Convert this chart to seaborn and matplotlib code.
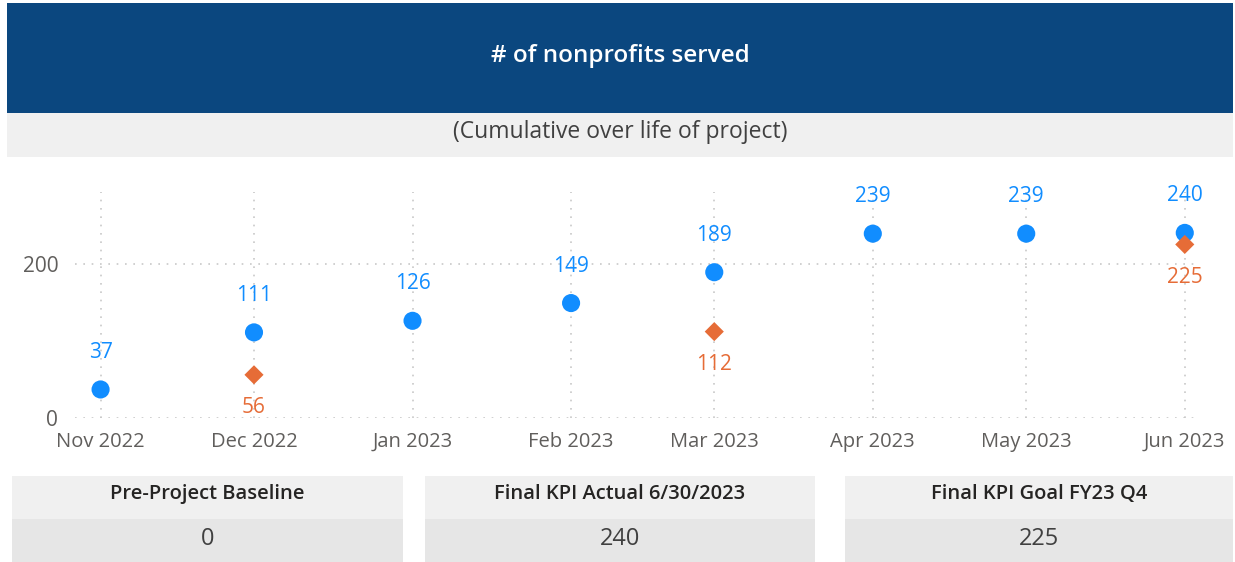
import matplotlib
matplotlib.use("Agg")
import matplotlib.pyplot as plt
import matplotlib.dates as mdates
from matplotlib.patches import Rectangle
import pandas as pd
import seaborn as sns

# -------------------------
# DATA
# -------------------------
months = ["2022-11-01", "2022-12-01", "2023-01-01", "2023-02-01",
          "2023-03-01", "2023-04-01", "2023-05-01", "2023-06-01"]
actual = [37, 111, 126, 149, 189, 239, 239, 240]

goal_months = ["2022-12-01", "2023-03-01", "2023-06-01"]
goal = [56, 112, 225]

kpi_titles = ["Pre-Project Baseline", "Final KPI Actual 6/30/2023", "Final KPI Goal FY23 Q4"]
kpi_values = ["0", "240", "225"]

title = "# of nonprofits served"
subtitle = "(Cumulative over life of project)"

BLUE = "#118DFF"
ORANGE = "#E66C37"
GRID = "#C8C8C8"
TICK = "#605E5C"

df_actual = pd.DataFrame({"month": pd.to_datetime(months), "value": actual})
df_goal = pd.DataFrame({"month": pd.to_datetime(goal_months), "value": goal})

sns.set_theme(style="white")
plt.rcParams["font.family"] = ["Open Sans", "DejaVu Sans"]

W, H = 1235, 562
fig = plt.figure(figsize=(W / 100, H / 100), dpi=100)
fig.patch.set_facecolor("white")


def px_rect(x0, y0, x1, y1, color):
    # rectangle given in pixel coords (top-left origin)
    fig.patches.append(Rectangle((x0 / W, 1 - y1 / H), (x1 - x0) / W, (y1 - y0) / H,
                                 transform=fig.transFigure, facecolor=color,
                                 edgecolor="none", zorder=0))


# header band + subtitle band
px_rect(7, 3, 1233, 113, "#0B477F")
px_rect(7, 113, 1233, 157, "#F0F0F0")
fig.text(620 / W, 1 - 56 / H, title, color="white", fontsize=17.5, fontweight="semibold",
         ha="center", va="center")
fig.text(620 / W, 1 - 132 / H, subtitle, color="#404040", fontsize=16.5,
         ha="center", va="center")

# -------------------------
# SCATTER CHART
# -------------------------
ax = fig.add_axes([75 / W, (H - 418) / H, (1195 - 75) / W, (418 - 192) / H])
sns.scatterplot(data=df_actual, x="month", y="value", ax=ax, color=BLUE,
                s=170, marker="o", edgecolor="none", zorder=3)
sns.scatterplot(data=df_goal, x="month", y="value", ax=ax, color=ORANGE,
                s=95, marker="D", edgecolor="none", zorder=4)

for m, v in zip(df_actual["month"], df_actual["value"]):
    ax.annotate(str(v), (m, v), xytext=(0, 19), textcoords="offset points",
                ha="center", va="bottom", color=BLUE, fontsize=15)
for m, v in zip(df_goal["month"], df_goal["value"]):
    ax.annotate(str(v), (m, v), xytext=(0, -16), textcoords="offset points",
                ha="center", va="top", color=ORANGE, fontsize=15)

ax.set_xlim(pd.Timestamp("2022-10-27"), pd.Timestamp("2023-06-03"))
ax.set_ylim(0, 293)
ax.set_yticks([0, 200])
ax.xaxis.set_major_locator(mdates.MonthLocator())
ax.xaxis.set_major_formatter(mdates.DateFormatter("%b %Y"))
ax.grid(True, color=GRID, linestyle=(0, (1, 4)), linewidth=1.2)
ax.set_axisbelow(True)
for s in ax.spines.values():
    s.set_visible(False)
ax.tick_params(axis="x", length=0, pad=21, labelsize=14.5, labelcolor=TICK)
ax.tick_params(axis="y", length=0, pad=12, labelsize=15, labelcolor=TICK)
for lbl in ax.get_xticklabels():
    lbl.set_verticalalignment("baseline")
ax.set_xlabel("")
ax.set_ylabel("")
ax.set_facecolor("none")

# -------------------------
# KPI CARDS
# -------------------------
boxes = [(12, 403), (425, 815), (845, 1233)]
for (x0, x1), t, v in zip(boxes, kpi_titles, kpi_values):
    px_rect(x0, 476, x1, 519, "#F0F0F0")
    px_rect(x0, 519, x1, 562, "#E6E6E6")
    cx = (x0 + x1) / 2 / W
    fig.text(cx, 1 - 494 / H, t, color="#252423", fontsize=14.5, fontweight="semibold",
             ha="center", va="center")
    fig.text(cx, 1 - 539 / H, v, color="#404040", fontsize=17,
             ha="center", va="center")

fig.savefig("out.png", dpi=100)
